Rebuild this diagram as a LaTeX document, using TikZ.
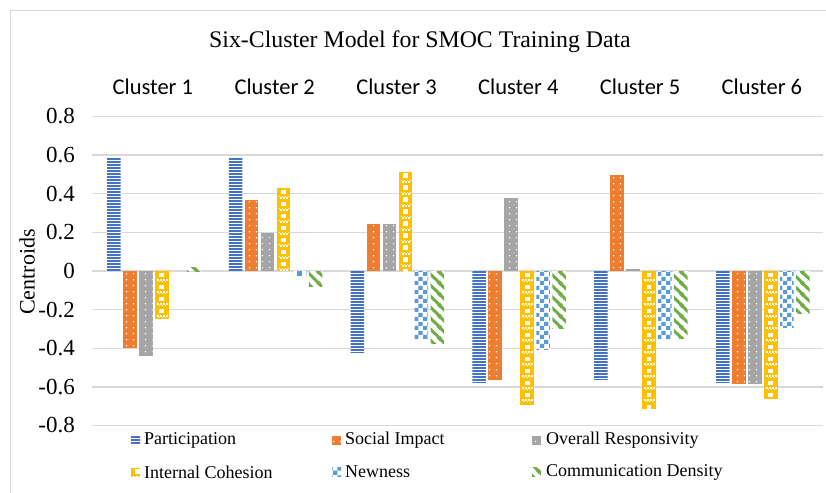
\documentclass[tikz,border=0pt]{standalone}
\usepackage{fontspec}
\setmainfont{Liberation Serif}
\newfontfamily\clusterfont{Carlito}
\usetikzlibrary{patterns.meta}

\definecolor{cP}{HTML}{4472C4}
\definecolor{cSI}{HTML}{ED7D31}
\definecolor{cOR}{HTML}{A5A5A5}
\definecolor{cIC}{HTML}{FFC000}
\definecolor{cN}{HTML}{5B9BD5}
\definecolor{cCD}{HTML}{70AD47}
\definecolor{gridgray}{HTML}{D9D9D9}

% fill patterns of the six series
\tikzdeclarepattern{
  name=smalldots, type=uncolored,
  bounding box={(0pt,0pt) and (6.5pt,6pt)},
  tile size={(6.5pt,6pt)},
  code={\fill (2pt,2pt) rectangle (3.4pt,3.4pt);}
}
\tikzdeclarepattern{
  name=bigchecker, type=uncolored,
  bounding box={(0pt,0pt) and (9pt,9pt)},
  tile size={(9pt,9pt)},
  code={\fill (0pt,0pt) rectangle (4.5pt,4.5pt);
        \fill (4.5pt,4.5pt) rectangle (9pt,9pt);}
}
\tikzdeclarepattern{
  name=wdiag, type=uncolored,
  bounding box={(0pt,0pt) and (11pt,11pt)},
  tile size={(11pt,11pt)},
  code={\draw[line width=3.2pt] (-1pt,12pt) -- (12pt,-1pt);
        \draw[line width=3.2pt] (-2pt,2pt) -- (2pt,-2pt);
        \draw[line width=3.2pt] (9pt,13pt) -- (13pt,9pt);}
}

\tikzset{
  barP/.style={fill=white, path picture={
      \begin{scope}[shift={(path picture bounding box.north west)}]
        \foreach \k in {0,...,50}{
          \pgfmathsetmacro\ya{-3*\k-0.4}
          \fill[cP] (-1pt,\ya pt) rectangle ++(20pt,-1.8pt);
        }
      \end{scope}}},
  barSI/.style={fill=cSI, postaction={pattern=smalldots, pattern color=white}},
  barOR/.style={fill=cOR, postaction={pattern=smalldots, pattern color=white}},
  barIC/.style={fill=cIC, path picture={
      \begin{scope}[shift={(path picture bounding box.north west)}]
        \foreach \k in {0,...,12}{
          \pgfmathsetmacro\ya{-12*\k-1.8}
          \pgfmathsetmacro\yb{-12*\k-8}
          \pgfmathsetmacro\yc{-12*\k-9.5}
          \fill[white] (4.3pt,\ya pt) rectangle ++(4.8pt,-4.6pt);
          \foreach \j in {2,5,8,11}{\fill[white] (\j pt,\yb pt) rectangle ++(1.5pt,-1.5pt);}
          \foreach \j in {3.5,6.5,9.5}{\fill[white] (\j pt,\yc pt) rectangle ++(1.5pt,-1.5pt);}
        }
      \end{scope}}},
  barN/.style={fill=white, postaction={pattern=bigchecker, pattern color=cN}},
  barCD/.style={fill=white, postaction={pattern=wdiag, pattern color=cCD}},
  gridline/.style={draw=gridgray, line width=1.3pt},
  ticklab/.style={font=\fontsize{23}{26}\selectfont, anchor=east, inner sep=0pt},
  clusterlab/.style={font=\clusterfont\fontsize{22.5}{26}\selectfont, inner sep=0pt},
  legtext/.style={font=\fontsize{18}{21}\selectfont, anchor=west, inner sep=0pt},
}

% one bar: cluster, series index, value, style (a zero value draws nothing)
\newcommand\drawbar[4]{%
  \pgfmathtruncatemacro\nonzero{abs(#3)>0.001}%
  \ifnum\nonzero=1
    \pgfmathsetmacro\bx{107+121.8*#1+16*#2}%
    \pgfmathsetmacro\by{271-193.1*#3}%
    \path[#4] (\bx,271) rectangle (\bx+13.5,\by);%
  \fi
}

\begin{document}
\begin{tikzpicture}[x=1pt,y=-1pt]
\useasboundingbox (0,0) rectangle (826,492);

% chart frame
\draw[gridgray, line width=1.3pt] (10.5,10.5) rectangle (840,505);

% title and category labels
\node[font=\fontsize{23.8}{28}\selectfont, inner sep=0pt] (title) at (420,42) {Six-Cluster Model for SMOC Training Data};
\foreach \n in {1,...,6}
  \node[clusterlab] (cl\n) at ({92+121.8*(\n-0.5)},87) {Cluster \n};

% horizontal gridlines and value axis labels
\foreach \lab [count=\k from 0] in {0.8,0.6,0.4,0.2,0,-0.2,-0.4,-0.6,-0.8}{
  \draw[gridline] (92,116.5+38.625*\k) -- (823,116.5+38.625*\k);
  \node[ticklab] (tk\k) at (75,116.5+38.625*\k) {\lab};
}
\node[font=\fontsize{22}{26}\selectfont, rotate=90, inner sep=0pt] (ylab) at (27,272) {Centroids};

% bars
\foreach \c/\vp/\vs/\vo/\vi/\vn/\vd in {
    0/0.585/-0.40/-0.44/-0.25/0/0.02,
    1/0.585/0.37/0.195/0.43/-0.025/-0.08,
    2/-0.42/0.245/0.245/0.515/-0.355/-0.375,
    3/-0.575/-0.565/0.38/-0.695/-0.405/-0.30,
    4/-0.56/0.495/0.012/-0.715/-0.35/-0.35,
    5/-0.575/-0.585/-0.585/-0.665/-0.29/-0.22}{
  \drawbar{\c}{0}{\vp}{barP}
  \drawbar{\c}{1}{\vs}{barSI}
  \drawbar{\c}{2}{\vo}{barOR}
  \drawbar{\c}{3}{\vi}{barIC}
  \drawbar{\c}{4}{\vn}{barN}
  \drawbar{\c}{5}{\vd}{barCD}
}

% legend
\path[barP]  (131,435.5) rectangle ++(9,9);
\node[legtext] (lgP) at (144,440) {Participation};
\path[barSI] (332,435.5) rectangle ++(9,9);
\node[legtext] (lgSI) at (345,440) {Social Impact};
\path[barOR] (532,435.5) rectangle ++(9,9);
\node[legtext] (lgOR) at (546,440) {Overall Responsivity};
\path[barIC] (131,467.5) rectangle ++(9,9);
\node[legtext] (lgIC) at (144,472) {Internal Cohesion};
\path[barN]  (332,467.5) rectangle ++(9,9);
\node[legtext] (lgN) at (345,472) {Newness};
\path[barCD] (532,467.5) rectangle ++(9,9);
\node[legtext] (lgCD) at (546,472) {Communication Density};
\end{tikzpicture}
\end{document}
